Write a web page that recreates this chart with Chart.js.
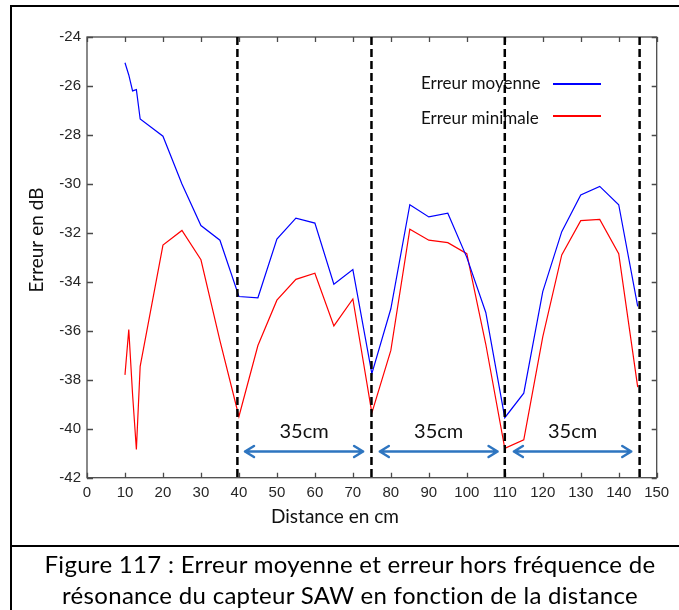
<!DOCTYPE html>
<html><head><meta charset="utf-8">
<script src="https://cdn.jsdelivr.net/npm/chart.js@4.4.1/dist/chart.umd.min.js"></script>
<style>
html,body{margin:0;padding:0;background:#fff;width:679px;height:610px;overflow:hidden;}
#wrap{position:relative;width:679px;height:610px;overflow:hidden;}
canvas{position:absolute;left:0;top:0;}
#frame{position:absolute;left:10px;top:5px;width:720px;height:720px;border-left:2px solid #000;border-top:2px solid #000;}
#sep{position:absolute;left:10px;top:545px;width:700px;height:0;border-top:2px solid #000;}
#caption{position:absolute;left:0px;top:548px;width:700px;text-align:center;font-family:Lato,'Noto Sans',sans-serif;font-size:24px;letter-spacing:0.3px;line-height:31px;color:#000;white-space:nowrap;}
</style></head>
<body>
<div id="wrap">
<div id="frame"></div>
<div id="sep"></div>
<canvas id="c" width="679" height="610"></canvas>
<div id="caption">Figure 117 : Erreur moyenne et erreur hors fréquence de<br>résonance du capteur SAW en fonction de la distance</div>
</div>
<script>
// ---- data ----
const distances = [10,11,12,13,14,20,25,30,35,40,45,50,55,60,65,70,75,80,85,90,95,100,105,110,115,120,125,130,135,140,145];
const erreurMoyenne = [-25.05,-25.55,-26.2,-26.15,-27.35,-28.05,-30.0,-31.7,-32.3,-34.6,-34.65,-32.25,-31.4,-31.6,-34.1,-33.5,-37.75,-35.1,-30.85,-31.35,-31.2,-33.0,-35.25,-39.55,-38.55,-34.4,-31.95,-30.45,-30.1,-30.85,-35.0];
const erreurMinimale = [-37.8,-35.95,-38.6,-40.85,-37.45,-32.5,-31.9,-33.1,-36.4,-39.5,-36.6,-34.75,-33.9,-33.65,-35.8,-34.7,-39.35,-36.8,-31.85,-32.3,-32.4,-32.85,-36.55,-40.8,-40.45,-36.25,-32.9,-31.5,-31.45,-32.85,-38.3];
const seriesLabels = ['Erreur moyenne','Erreur minimale'];
const xTickValues = [0,10,20,30,40,50,60,70,80,90,100,110,120,130,140,150];
const yTickValues = [-42,-40,-38,-36,-34,-32,-30,-28,-26,-24];
const dividers = [39.6, 74.9, 110, 145.5];
const spanStarts = [41.6, 77.1, 112.4];
const spanEnds = [72.7, 108.1, 143.3];
const spanText = '35cm';
const arrowLevel = -40.93;
const spanTextLevel = -40.1;
const xTitle = 'Distance en cm';
const yTitle = 'Erreur en dB';

const TXT = "Lato, 'Noto Sans', sans-serif";

const decor = {
  id: 'decor',
  afterDatasetsDraw(chart) {
    const {ctx, chartArea: a, scales: {x, y}} = chart;
    ctx.save();
    // frame
    ctx.strokeStyle = '#4a4a4a'; ctx.lineWidth = 1.3; ctx.setLineDash([]);
    ctx.strokeRect(a.left, a.top, a.right - a.left, a.bottom - a.top);
    // inward ticks
    ctx.beginPath();
    xTickValues.forEach(v => {
      const p = Math.round(x.getPixelForValue(v)) + 0.5;
      ctx.moveTo(p, a.bottom); ctx.lineTo(p, a.bottom - 5);
      ctx.moveTo(p, a.top); ctx.lineTo(p, a.top + 5);
    });
    yTickValues.forEach(v => {
      const p = Math.round(y.getPixelForValue(v)) + 0.5;
      ctx.moveTo(a.left, p); ctx.lineTo(a.left + 6, p);
      ctx.moveTo(a.right, p); ctx.lineTo(a.right - 5, p);
    });
    ctx.stroke();
    // legend
    ctx.font = '17px ' + TXT; ctx.fillStyle = '#111'; ctx.textAlign = 'left'; ctx.textBaseline = 'middle';
    const legTextY = [84, 119];
    const legLineY = [84, 116];
    chart.data.datasets.forEach((ds, i) => {
      ctx.fillText(ds.label, 421, legTextY[i]);
      ctx.strokeStyle = ds.borderColor; ctx.lineWidth = 2;
      ctx.beginPath(); ctx.moveTo(553, legLineY[i]); ctx.lineTo(601, legLineY[i]); ctx.stroke();
    });
    // dashed dividers
    ctx.strokeStyle = '#000'; ctx.lineWidth = 2.5; ctx.setLineDash([8, 4]);
    dividers.forEach(v => {
      const p = x.getPixelForValue(v);
      ctx.beginPath(); ctx.moveTo(p, a.top); ctx.lineTo(p, a.bottom); ctx.stroke();
    });
    ctx.setLineDash([]);
    // arrows
    ctx.strokeStyle = '#2e75c0'; ctx.lineWidth = 2.5; ctx.lineCap = 'round'; ctx.lineJoin = 'round';
    const ay = y.getPixelForValue(arrowLevel);
    const ty = y.getPixelForValue(spanTextLevel);
    spanStarts.forEach((s, i) => {
      const x1 = x.getPixelForValue(s), x2 = x.getPixelForValue(spanEnds[i]);
      ctx.beginPath();
      ctx.moveTo(x1, ay); ctx.lineTo(x2, ay);
      ctx.moveTo(x1 + 9, ay - 5.5); ctx.lineTo(x1, ay); ctx.lineTo(x1 + 9, ay + 5.5);
      ctx.moveTo(x2 - 9, ay - 5.5); ctx.lineTo(x2, ay); ctx.lineTo(x2 - 9, ay + 5.5);
      ctx.stroke();
      ctx.font = '20px ' + TXT; ctx.fillStyle = '#111'; ctx.textAlign = 'center'; ctx.textBaseline = 'middle';
      ctx.fillText(spanText, (x1 + x2) / 2, ty);
    });
    // axis titles
    ctx.font = '19px ' + TXT; ctx.fillStyle = '#111'; ctx.textAlign = 'center'; ctx.textBaseline = 'middle';
    ctx.fillText(xTitle, 335, 517);
    ctx.translate(37, 240); ctx.rotate(-Math.PI / 2);
    ctx.fillText(yTitle, 0, 0);
    ctx.restore();
  }
};

new Chart(document.getElementById('c'), {
  type: 'line',
  data: {
    datasets: [
      { label: seriesLabels[0], data: distances.map((d, i) => ({x: d, y: erreurMoyenne[i]})),
        borderColor: '#0000ff', borderWidth: 1.2, pointRadius: 0, tension: 0, fill: false },
      { label: seriesLabels[1], data: distances.map((d, i) => ({x: d, y: erreurMinimale[i]})),
        borderColor: '#ff0000', borderWidth: 1.2, pointRadius: 0, tension: 0, fill: false }
    ]
  },
  options: {
    responsive: false, animation: false, devicePixelRatio: 1,
    layout: { padding: { left: 27, top: 37, right: 22.3, bottom: 102.3 } },
    plugins: { legend: { display: false }, tooltip: { enabled: false } },
    scales: {
      x: {
        type: 'linear', min: 0, max: 150,
        afterBuildTicks: s => { s.ticks = xTickValues.map(v => ({value: v})); },
        afterFit: s => { s.height = 30; },
        grid: { display: false, drawTicks: false }, border: { display: false },
        ticks: { padding: 6, color: '#262626', font: { family: "'Liberation Sans', Arial, sans-serif", size: 15 }, maxRotation: 0, autoSkip: false }
      },
      y: {
        type: 'linear', min: -42, max: -24,
        afterBuildTicks: s => { s.ticks = yTickValues.map(v => ({value: v})); },
        afterFit: s => { s.width = 60; },
        grid: { display: false, drawTicks: false }, border: { display: false },
        ticks: { padding: 6, color: '#262626', font: { family: "'Liberation Sans', Arial, sans-serif", size: 15 }, autoSkip: false }
      }
    }
  },
  plugins: [decor]
});
</script>
</body></html>
